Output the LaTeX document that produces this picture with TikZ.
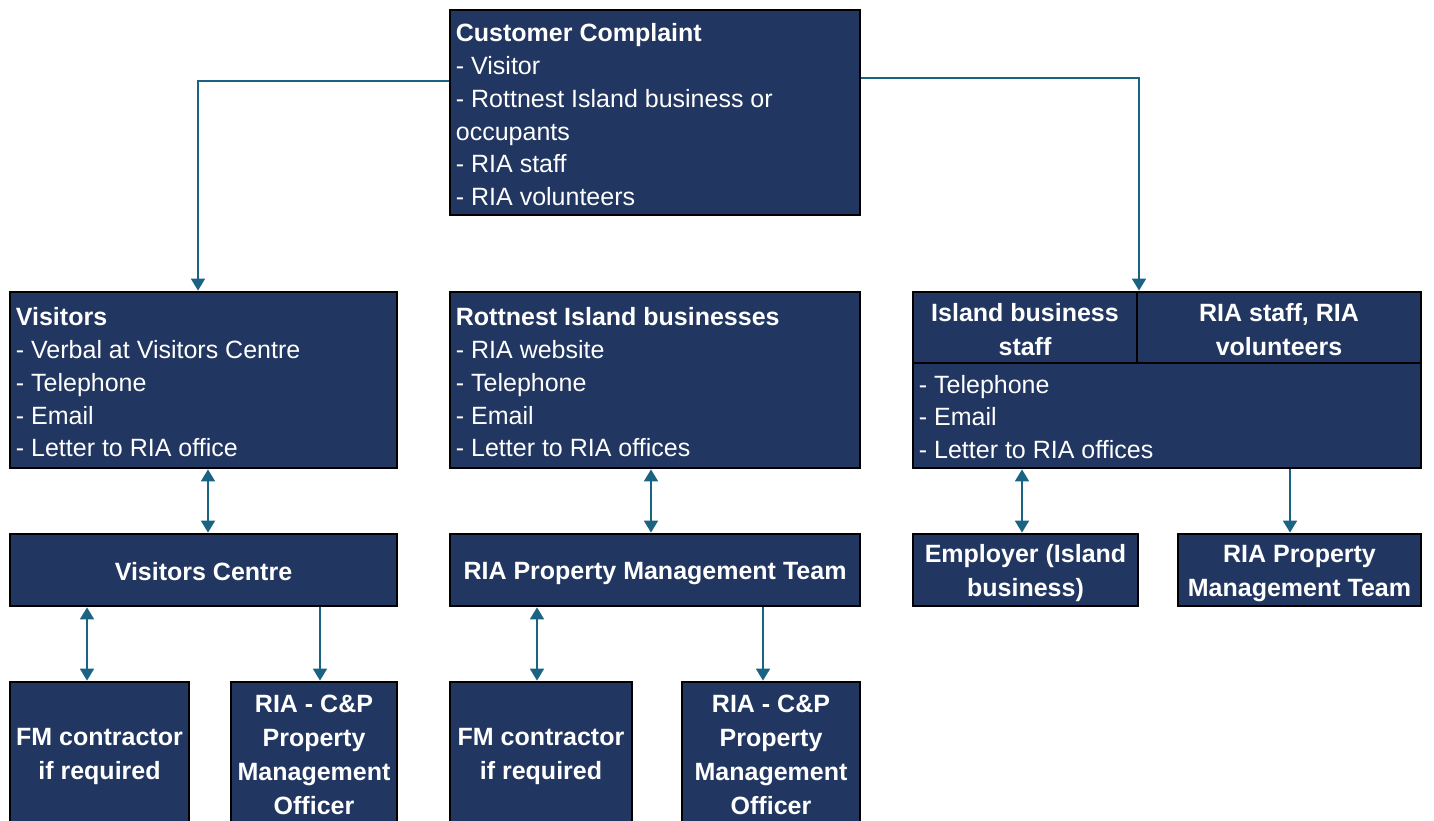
\documentclass[tikz,border=0pt]{standalone}
\usepackage{fontspec}
\setmainfont{Liberation Sans}
\usetikzlibrary{arrows.meta,calc}
\definecolor{boxnavy}{RGB}{33,54,96}
\definecolor{linkteal}{RGB}{27,99,131}
% strut that keeps centred labels level with the caps
\newcommand{\capstrut}{\rule[-4pt]{0pt}{28pt}}
\begin{document}
\begin{tikzpicture}[x=1pt,y=-1pt,
  box/.style={draw=black, line width=2.6pt, fill=boxnavy, inner sep=0pt,
    text=white, align=center, font=\bfseries\fontsize{25}{34}\selectfont},
  list/.style={anchor=north west, inner sep=0pt, text=white, align=left,
    font=\fontsize{25}{32.75}\selectfont},
  cell/.style={inner sep=0pt, text=white, align=center,
    font=\bfseries\fontsize{25}{34}\selectfont},
  link/.style={draw=linkteal, line width=2.9pt, -{Triangle[width=13.5pt,length=12pt]}},
  twoway/.style={draw=linkteal, line width=2.9pt,
    {Triangle[width=13.5pt,length=12pt]}-{Triangle[width=13.5pt,length=12pt]}},
]
\useasboundingbox (0,0) rectangle (1434,821);
\clip (0,0) rectangle (1434,821);

% ---------- top: who complains ----------
\node[box, minimum width=410pt, minimum height=205pt] (top) at (655,112.5) {};
\node[list] (toptext) at ([xshift=7pt,yshift=-10pt]top.north west)
  {\strut\textbf{Customer Complaint}\\- Visitor\\- Rottnest Island business or\\occupants\\- RIA staff\\- RIA volunteers};

% ---------- middle row: channels ----------
\node[box, minimum width=387pt, minimum height=176pt] (vis) at (203.5,380) {};
\node[list] (vistext) at ([xshift=7pt,yshift=-12pt]vis.north west)
  {\strut\textbf{Visitors}\\- Verbal at Visitors Centre\\- Telephone\\- Email\\- Letter to RIA office};

\node[box, minimum width=410pt, minimum height=176pt] (rott) at (655,380) {};
\node[list] (rotttext) at ([xshift=7pt,yshift=-12pt]rott.north west)
  {\strut\textbf{Rottnest Island businesses}\\- RIA website\\- Telephone\\- Email\\- Letter to RIA offices};

\node[box, minimum width=508pt, minimum height=176pt] (staff) at (1167,380) {};
\coordinate (split) at (1137,363);
\draw[black, line width=2.6pt] (staff.west |- split) -- (staff.east |- split);
\draw[black, line width=2.6pt] (staff.north -| split) -- (split);
\node[cell] (islstaff) at (1025,328) {\capstrut Island business\\staff\capstrut};
\node[cell] (riastaff) at (1279,328) {\capstrut RIA staff, RIA\\volunteers\capstrut};
\node[list] (stafftext) at ([xshift=7pt,yshift=-7pt]staff.west |- split)
  {\strut- Telephone\\- Email\\- Letter to RIA offices};

% ---------- handling teams ----------
\node[box, minimum width=387pt, minimum height=72pt] (vc) at (203.5,570) {\capstrut Visitors Centre\capstrut};
\node[box, minimum width=410pt, minimum height=72pt] (pmt) at (655,570) {\capstrut RIA Property Management Team\capstrut};
\node[box, minimum width=225pt, minimum height=72pt] (emp) at (1025.5,570) {\capstrut Employer (Island\\business)\capstrut};
\node[box, minimum width=243pt, minimum height=72pt] (pmt2) at (1299.5,570) {\capstrut RIA Property\\Management Team\capstrut};

% ---------- bottom row ----------
\node[box, minimum width=179pt, minimum height=142pt] (fm1) at (99.5,753) {\capstrut FM contractor\\if required\capstrut};
\node[box, minimum width=166pt, minimum height=142pt] (cp1) at (314,753) {\capstrut RIA - C\&P\\Property\\Management\\Officer\capstrut};
\node[box, minimum width=182pt, minimum height=142pt] (fm2) at (541,753) {\capstrut FM contractor\\if required\capstrut};
\node[box, minimum width=178pt, minimum height=142pt] (cp2) at (771,753) {\capstrut RIA - C\&P\\Property\\Management\\Officer\capstrut};

% ---------- connectors ----------
\coordinate (topL) at ([yshift=31.5pt]top.west);
\coordinate (topR) at ([yshift=34.5pt]top.east);
\coordinate (visIn) at ([xshift=-5.5pt]vis.north);
\coordinate (staffIn) at ([xshift=-28pt]staff.north);
\draw[link] (topL) -| (visIn);
\draw[link] (topR) -| (staffIn);

\coordinate (vcIn) at ([xshift=4.5pt]vc.north);
\draw[twoway] (vis.south -| vcIn) -- (vcIn);
\coordinate (pmtIn) at ([xshift=-4pt]pmt.north);
\draw[twoway] (rott.south -| pmtIn) -- (pmtIn);
\coordinate (empIn) at ([xshift=-3.5pt]emp.north);
\draw[twoway] (staff.south -| empIn) -- (empIn);
\coordinate (pmt2In) at ([xshift=-9.5pt]pmt2.north);
\draw[link] (staff.south -| pmt2In) -- (pmt2In);

\coordinate (fm1In) at ([xshift=-12.5pt]fm1.north);
\draw[twoway] (vc.south -| fm1In) -- (fm1In);
\coordinate (cp1In) at ([xshift=6pt]cp1.north);
\draw[link] (vc.south -| cp1In) -- (cp1In);
\coordinate (fm2In) at ([xshift=-4pt]fm2.north);
\draw[twoway] (pmt.south -| fm2In) -- (fm2In);
\coordinate (cp2In) at ([xshift=-8pt]cp2.north);
\draw[link] (pmt.south -| cp2In) -- (cp2In);
\end{tikzpicture}
\end{document}
